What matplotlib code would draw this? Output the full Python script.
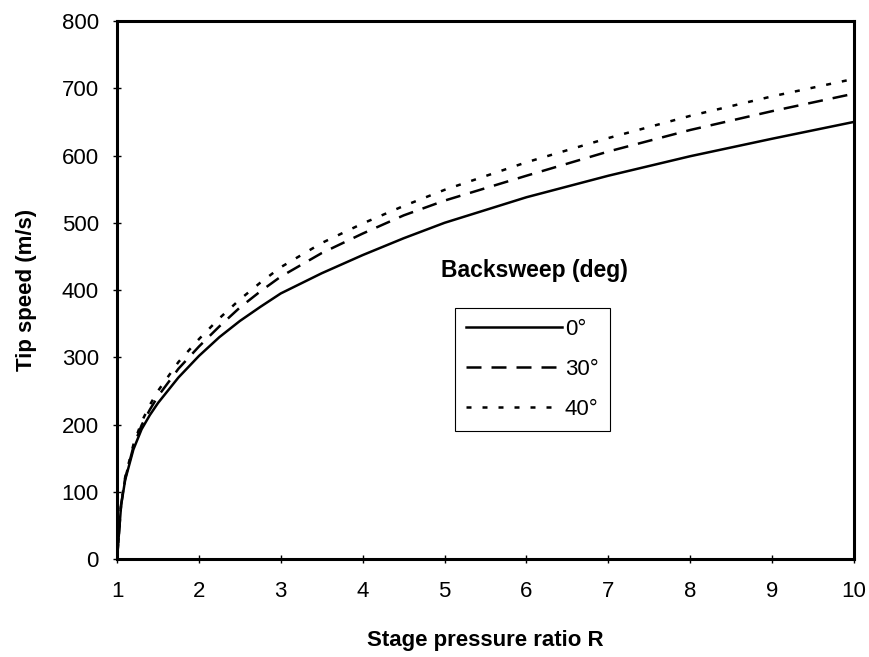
import numpy as np
from matplotlib import pyplot as plt

plt.rcParams['font.family'] = ['Liberation Sans', 'DejaVu Sans']

# stage pressure ratio R
ratio = [1.0, 1.05, 1.1, 1.2, 1.3, 1.4, 1.5, 1.75, 2.0, 2.25, 2.5, 2.75, 3.0,
         3.5, 4.0, 4.5, 5.0, 6.0, 7.0, 8.0, 9.0, 10.0]

# tip speed (m/s) for each backsweep angle
tip_0 = [0, 80, 118, 163, 193, 214, 232, 270, 302, 330, 354, 375, 395,
         425, 452, 477, 500, 538, 570, 599, 625, 650]
tip_30 = [0, 81, 120, 167, 199, 222, 242, 283, 316, 346, 374, 398, 420,
          455, 484, 511, 533, 570, 606, 638, 666, 692]
tip_40 = [0, 82, 122, 170, 204, 229, 250, 293, 327, 358, 386, 411, 434,
          470, 499, 525, 549, 590, 626, 659, 688, 714]

labels = ['0°', '30°', '40°']
x_ticks = list(range(1, 11))
y_ticks = list(range(0, 801, 100))

fig = plt.figure(figsize=(8.7, 6.57), dpi=100)
ax = fig.add_axes([0.1345, 0.149, 0.8471, 0.819])

lw = 1.8
ax.plot(ratio, tip_0, color='black', lw=lw, label=labels[0])
ax.plot(ratio, tip_30, color='black', lw=lw, dashes=(6, 4), label=labels[1])
ax.plot(ratio, tip_40, color='black', lw=lw, dashes=(2, 4.4), label=labels[2])

ax.set_xlim(1, 10)
ax.set_ylim(0, 800)
ax.set_xticks(x_ticks)
ax.set_yticks(y_ticks)
ax.tick_params(direction='inout', length=6, width=1, labelsize=16)
ax.tick_params(axis='x', pad=13)
ax.tick_params(axis='y', pad=10)
for s in ax.spines.values():
    s.set_linewidth(2.2)

ax.set_xlabel('Stage pressure ratio R', fontsize=16, fontweight='bold', labelpad=20)
ax.set_ylabel('Tip speed (m/s)', fontsize=16, fontweight='bold', labelpad=18)

ax.text(0.567, 0.537, 'Backsweep (deg)', transform=ax.transAxes,
        ha='center', va='center', fontsize=16.5, fontweight='bold')

leg = ax.legend(loc='upper left', bbox_to_anchor=(0.4586, 0.4665), borderaxespad=0,
                fontsize=16, handlelength=4.3, handletextpad=0.15, labelspacing=0.85,
                borderpad=0.5, fancybox=False, framealpha=1, edgecolor='black')
leg.get_frame().set_linewidth(0.8)

plt.savefig('out.png', dpi=100)
